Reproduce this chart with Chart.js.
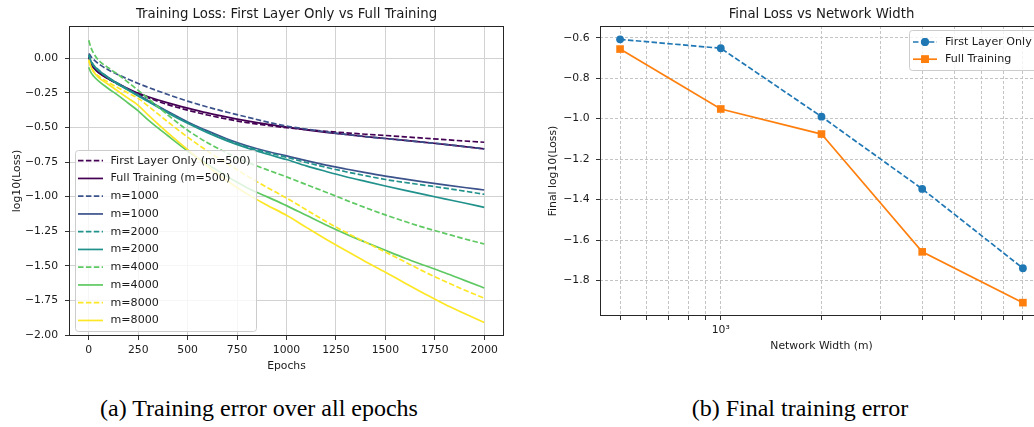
<!DOCTYPE html>
<html><head><meta charset="utf-8">
<script src="https://cdn.jsdelivr.net/npm/chart.js@4.4.0/dist/chart.umd.min.js"></script>
<style>
html,body{margin:0;padding:0;background:#fff;width:1034px;height:427px;overflow:hidden;position:relative}
#c1{position:absolute;left:0;top:0}
#c2{position:absolute;left:530px;top:0}
.cap{position:absolute;top:395px;font-family:'Liberation Serif','Times New Roman',serif;font-size:24px;color:#000;white-space:nowrap;transform:translateX(-50%)}
</style></head><body>
<canvas id="c1" width="520" height="380"></canvas>
<canvas id="c2" width="530" height="380"></canvas>
<div class="cap" style="left:259px">(a) Training error over all epochs</div>
<div class="cap" style="left:800px">(b) Final training error</div>
<script>
// ---------- data ----------
const epochs = [0,10,25,50,100,150,200,250,300,400,500,600,700,800,900,1000,1100,1200,1300,1400,1500,1600,1700,1800,1900,2000];
const firstLayer500 = [0.01,-0.03,-0.065,-0.10,-0.15,-0.19,-0.225,-0.258,-0.285,-0.335,-0.375,-0.41,-0.44,-0.465,-0.485,-0.502,-0.516,-0.528,-0.539,-0.549,-0.558,-0.568,-0.578,-0.588,-0.598,-0.607];
const fullTrain500 = [0.01,-0.035,-0.07,-0.105,-0.15,-0.185,-0.22,-0.252,-0.278,-0.322,-0.36,-0.395,-0.425,-0.452,-0.476,-0.497,-0.517,-0.535,-0.551,-0.566,-0.58,-0.594,-0.608,-0.622,-0.638,-0.655];
const firstLayer1000 = [0.035,0.015,-0.01,-0.04,-0.085,-0.12,-0.152,-0.182,-0.21,-0.262,-0.31,-0.352,-0.39,-0.425,-0.46,-0.49,-0.512,-0.532,-0.55,-0.566,-0.58,-0.594,-0.608,-0.622,-0.638,-0.655];
const fullTrain1000 = [0.02,-0.02,-0.055,-0.09,-0.14,-0.185,-0.225,-0.265,-0.305,-0.385,-0.46,-0.525,-0.583,-0.632,-0.672,-0.705,-0.74,-0.772,-0.8,-0.827,-0.852,-0.874,-0.895,-0.915,-0.934,-0.952];
const firstLayer2000 = [0.025,-0.015,-0.05,-0.085,-0.14,-0.185,-0.228,-0.268,-0.31,-0.39,-0.465,-0.532,-0.59,-0.64,-0.68,-0.715,-0.753,-0.788,-0.82,-0.849,-0.876,-0.898,-0.918,-0.938,-0.96,-0.983];
const fullTrain2000 = [0.02,-0.02,-0.055,-0.09,-0.145,-0.19,-0.232,-0.272,-0.313,-0.395,-0.47,-0.538,-0.597,-0.648,-0.692,-0.732,-0.778,-0.818,-0.856,-0.89,-0.923,-0.955,-0.986,-1.016,-1.046,-1.077];
const firstLayer4000 = [0.13,0.08,0.035,-0.015,-0.07,-0.12,-0.175,-0.232,-0.29,-0.41,-0.52,-0.61,-0.685,-0.75,-0.805,-0.857,-0.913,-0.968,-1.025,-1.08,-1.132,-1.18,-1.225,-1.265,-1.305,-1.342];
const fullTrain4000 = [-0.065,-0.1,-0.13,-0.165,-0.22,-0.27,-0.325,-0.38,-0.445,-0.56,-0.67,-0.765,-0.855,-0.935,-1.0,-1.065,-1.135,-1.205,-1.27,-1.33,-1.388,-1.445,-1.498,-1.55,-1.605,-1.66];
const firstLayer8000 = [-0.02,-0.06,-0.095,-0.13,-0.175,-0.215,-0.252,-0.29,-0.345,-0.46,-0.57,-0.67,-0.76,-0.85,-0.932,-1.01,-1.095,-1.18,-1.258,-1.33,-1.40,-1.472,-1.545,-1.612,-1.675,-1.734];
const fullTrain8000 = [-0.01,-0.06,-0.1,-0.14,-0.19,-0.24,-0.29,-0.34,-0.41,-0.54,-0.66,-0.78,-0.885,-0.98,-1.06,-1.135,-1.222,-1.308,-1.39,-1.47,-1.546,-1.625,-1.703,-1.778,-1.845,-1.91];

const widthsM = [500,1000,2000,4000,8000];
const finalFirstLayer = [-0.608,-0.652,-0.990,-1.347,-1.739];
const finalFullTraining = [-0.656,-0.952,-1.076,-1.658,-1.909];

const epochTicks = [0,250,500,750,1000,1250,1500,1750,2000];
const lossTicks = [0,-0.25,-0.5,-0.75,-1.0,-1.25,-1.5,-1.75,-2.0];
const finalLossTicks = [-0.6,-0.8,-1.0,-1.2,-1.4,-1.6,-1.8];
const widthTicks = [500,600,700,800,900,1000,2000,3000,4000,5000,6000,7000,8000,9000];
const widthMajorTicks = [1000];
const widthMajorLabels = ['10\u00B3'];

// ---------- helpers ----------
const FONT = "'DejaVu Sans', sans-serif";
const TXT = '#1a1a1a';
const fmt = (v, d) => (v < -1e-9 ? '\u2212' : '') + Math.abs(v).toFixed(d);

const framePlugin = {
  id: 'frame',
  afterDraw(chart, args, o) {
    const {ctx, chartArea: a} = chart;
    ctx.save();
    ctx.strokeStyle = '#262626'; ctx.lineWidth = 1; ctx.setLineDash([]);
    ctx.strokeRect(Math.round(a.left) + 0.5, Math.round(a.top) + 0.5, Math.round(a.right - a.left) - 1, Math.round(a.bottom - a.top) - 1);
    ctx.font = o.titleSize + 'px ' + FONT;
    ctx.fillStyle = TXT; ctx.textAlign = 'center'; ctx.textBaseline = 'middle';
    ctx.fillText(o.title, (a.left + a.right) / 2, o.titleY);
    const L = o.legend;
    ctx.beginPath();
    if (ctx.roundRect) ctx.roundRect(L.x0 + 0.5, L.y0 + 0.5, L.x1 - L.x0, L.y1 - L.y0, 3); else ctx.rect(L.x0 + 0.5, L.y0 + 0.5, L.x1 - L.x0, L.y1 - L.y0);
    ctx.fillStyle = 'rgba(255,255,255,0.8)'; ctx.fill();
    ctx.strokeStyle = '#cccccc'; ctx.lineWidth = 1; ctx.stroke();
    chart.data.datasets.forEach((ds, i) => {
      const y = L.rowY + i * L.rowH;
      ctx.beginPath();
      ctx.setLineDash(ds.borderDash || []);
      ctx.strokeStyle = ds.borderColor; ctx.lineWidth = ds.borderWidth;
      ctx.moveTo(L.lx0, y); ctx.lineTo(L.lx1, y); ctx.stroke();
      ctx.setLineDash([]);
      if (ds.pointRadius > 0) {
        ctx.fillStyle = ds.backgroundColor; ctx.strokeStyle = ds.borderColor;
        Chart.helpers.drawPoint(ctx, {pointStyle: ds.pointStyle, radius: ds.pointRadius, borderWidth: 0}, (L.lx0 + L.lx1) / 2, y);
        ctx.fill();
      }
      ctx.font = L.size + 'px ' + FONT; ctx.fillStyle = TXT; ctx.textAlign = 'left'; ctx.textBaseline = 'middle';
      ctx.fillText(ds.label, L.tx, y);
    });
    ctx.restore();
  }
};

const viridis = {500:'#440154',1000:'#3b528b',2000:'#21918c',4000:'#5ec962',8000:'#fde725'};
const curves = [
  ['First Layer Only (m=500)', firstLayer500, viridis[500], true],
  ['Full Training (m=500)', fullTrain500, viridis[500], false],
  ['m=1000', firstLayer1000, viridis[1000], true],
  ['m=1000', fullTrain1000, viridis[1000], false],
  ['m=2000', firstLayer2000, viridis[2000], true],
  ['m=2000', fullTrain2000, viridis[2000], false],
  ['m=4000', firstLayer4000, viridis[4000], true],
  ['m=4000', fullTrain4000, viridis[4000], false],
  ['m=8000', firstLayer8000, viridis[8000], true],
  ['m=8000', fullTrain8000, viridis[8000], false]
];

const tickFont = {family: FONT, size: 10.8};
const labelFont = {family: FONT, size: 10.8};

new Chart(document.getElementById('c1'), {
  type: 'line',
  data: {
    datasets: curves.map(([label, vals, color, dashed], i) => ({
      label, data: epochs.map((e, k) => ({x: e, y: vals[k]})),
      borderColor: color, backgroundColor: color, borderWidth: 1.7,
      borderDash: dashed ? [5.5, 2.4] : [], pointRadius: 0, fill: false,
      cubicInterpolationMode: 'monotone', order: 20 - i
    }))
  },
  options: {
    responsive: false, animation: false, devicePixelRatio: 1,
    layout: {padding: {left: 0, top: 26, right: 16, bottom: 0}},
    plugins: {
      legend: {display: false}, tooltip: {enabled: false},
      frame: {title: 'Training Loss: First Layer Only vs Full Training', titleSize: 13.3, titleY: 15,
        legend: {x0: 75, y0: 150, x1: 256, y1: 331, rowY: 160.7, rowH: 17.75, lx0: 78, lx1: 103, tx: 110.5, size: 11.1}}
    },
    scales: {
      x: {
        type: 'linear', min: -100, max: 2100,
        afterBuildTicks: s => { s.ticks = epochTicks.map(v => ({value: v})); },
        afterFit: s => { s.height = 44; },
        grid: {color: '#d2d2d2', lineWidth: 1, tickLength: 4, tickColor: '#333', drawTicks: true},
        border: {display: false},
        ticks: {font: tickFont, color: TXT, padding: 4, maxRotation: 0, autoSkip: false, callback: v => String(v)},
        title: {display: true, text: 'Epochs', font: labelFont, color: TXT, padding: {top: 0, bottom: 7}}
      },
      y: {
        type: 'linear', min: -2.007, max: 0.233,
        afterBuildTicks: s => { s.ticks = lossTicks.map(v => ({value: v})); },
        afterFit: s => { s.width = 69; },
        grid: {color: '#d2d2d2', lineWidth: 1, tickLength: 4, tickColor: '#333', drawTicks: true},
        border: {display: false},
        ticks: {font: tickFont, color: TXT, padding: 7, autoSkip: false, callback: v => fmt(v, 2)},
        title: {display: true, text: 'log10(Loss)', font: labelFont, color: TXT, padding: {top: 10.5, bottom: 0}}
      }
    }
  },
  plugins: [framePlugin]
});

new Chart(document.getElementById('c2'), {
  type: 'line',
  data: {
    datasets: [
      {label: 'First Layer Only', data: widthsM.map((w, i) => ({x: w, y: finalFirstLayer[i]})),
       borderColor: '#1f77b4', backgroundColor: '#1f77b4', borderWidth: 1.7, borderDash: [5.5, 2.4],
       pointStyle: 'circle', pointRadius: 3.9, pointBorderWidth: 0, fill: false, order: 2},
      {label: 'Full Training', data: widthsM.map((w, i) => ({x: w, y: finalFullTraining[i]})),
       borderColor: '#ff7f0e', backgroundColor: '#ff7f0e', borderWidth: 1.7, borderDash: [],
       pointStyle: 'rect', pointRadius: 5.4, pointBorderWidth: 0, fill: false, order: 1}
    ]
  },
  options: {
    responsive: false, animation: false, devicePixelRatio: 1,
    layout: {padding: {left: 0, top: 26, right: 17, bottom: 0}},
    plugins: {
      legend: {display: false}, tooltip: {enabled: false},
      frame: {title: 'Final Loss vs Network Width', titleSize: 13.3, titleY: 15,
        legend: {x0: 379, y0: 30, x1: 510, y1: 70, rowY: 42, rowH: 17.2, lx0: 383, lx1: 407, tx: 415, size: 11.1}}
    },
    scales: {
      x: {
        type: 'logarithmic', min: 435.5, max: 9187,
        afterBuildTicks: s => { s.ticks = widthTicks.map(v => ({value: v, major: widthMajorTicks.includes(v)})); },
        afterFit: s => { s.height = 64; },
        grid: {color: '#c4c4c4', lineWidth: 1, tickLength: 4, tickColor: '#333', drawTicks: true},
        border: {display: false, dash: [3, 2]},
        ticks: {font: tickFont, color: TXT, padding: 4, maxRotation: 0, autoSkip: false,
          callback: v => { const j = widthMajorTicks.indexOf(v); return j >= 0 ? widthMajorLabels[j] : ''; }},
        title: {display: true, text: 'Network Width (m)', font: labelFont, color: TXT, padding: {top: 0, bottom: 27}}
      },
      y: {
        type: 'linear', min: -1.975, max: -0.542,
        afterBuildTicks: s => { s.ticks = finalLossTicks.map(v => ({value: v})); },
        afterFit: s => { s.width = 70; },
        grid: {color: '#c4c4c4', lineWidth: 1, tickLength: 4, tickColor: '#333', drawTicks: true},
        border: {display: false, dash: [3, 2]},
        ticks: {font: tickFont, color: TXT, padding: 6.5, autoSkip: false, callback: v => fmt(v, 1)},
        title: {display: true, text: 'Final log10(Loss)', font: labelFont, color: TXT, padding: {top: 16.5, bottom: 0}}
      }
    }
  },
  plugins: [framePlugin]
});
</script>
</body></html>
